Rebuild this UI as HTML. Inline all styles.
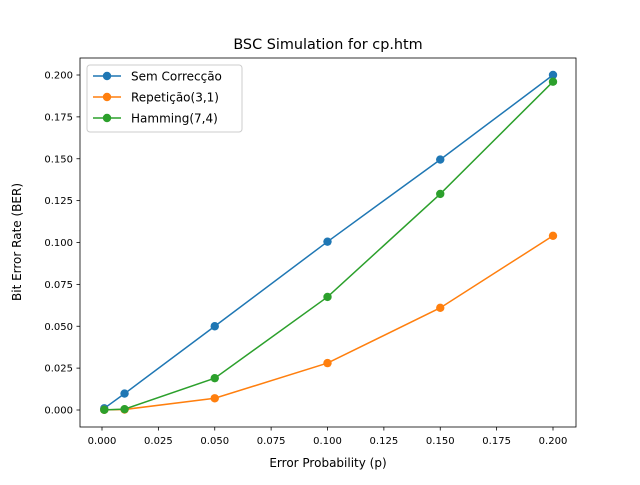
<!DOCTYPE html>
<html><head><meta charset="utf-8"><style>
body{margin:0;background:#fff;}
svg text{font-family:"DejaVu Sans","Liberation Sans",sans-serif;}
</style></head><body>
<svg id="chart" width="640" height="480" xmlns="http://www.w3.org/2000/svg"></svg>
<script>
const xValues=[0.001,0.01,0.05,0.1,0.15,0.2];
const semCorreccao=[0.001,0.0098,0.050,0.1005,0.1495,0.200];
const repeticao=[0.0001,0.0003,0.007,0.028,0.061,0.104];
const hamming=[0.0001,0.0005,0.019,0.0675,0.129,0.196];
const xTicks=[0,0.025,0.05,0.075,0.1,0.125,0.15,0.175,0.2];
const yTicks=[0,0.025,0.05,0.075,0.1,0.125,0.15,0.175,0.2];
const seriesNames=["Sem Correcção","Repetição(3,1)","Hamming(7,4)"];
const seriesColors=["#1f77b4","#ff7f0e","#2ca02c"];

const svg=document.getElementById('chart');
const NS="http://www.w3.org/2000/svg";
const L=80,R=576,T=58,B=427;
const sx=v=>102+(v/0.2)*(553-102);
const sy=v=>410-(v/0.2)*(410-75);
function mk(tag,attrs,parent){const e=document.createElementNS(NS,tag);for(const k in attrs)e.setAttribute(k,attrs[k]);(parent||svg).appendChild(e);return e;}

const frame=mk('rect',{x:L,y:T,width:R-L,height:B-T,fill:'none',stroke:'#000','stroke-width':0.8});



xTicks.forEach(t=>{
  const x=sx(t);
  const ln=mk('line',{x1:x,x2:x,y1:B,y2:B+3.5,stroke:'#000','stroke-width':0.8});
  
  
  const tx=mk('text',{x:x,y:B+17,'text-anchor':'middle','font-size':10});
  tx.textContent=t.toFixed(3);
  
  
});
yTicks.forEach(t=>{
  const y=sy(t);
  const ln=mk('line',{x1:L,x2:L-3.5,y1:y,y2:y,stroke:'#000','stroke-width':0.8});
  
  
  const tx=mk('text',{x:L-7,y:y+3.5,'text-anchor':'end','font-size':10});
  tx.textContent=t.toFixed(3);
  
  
});

[semCorreccao,repeticao,hamming].forEach((vals,i)=>{
  const g=mk('g',{});
  
  
  const pts=vals.map((v,j)=>sx(xValues[j])+','+sy(v)).join(' ');
  mk('polyline',{points:pts,fill:'none',stroke:seriesColors[i],'stroke-width':1.5},g);
  vals.forEach((v,j)=>{
    const c=mk('circle',{cx:sx(xValues[j]),cy:sy(v),r:4.2,fill:seriesColors[i]},g);
    
    
  });
});

const title=mk('text',{x:328,y:49,'text-anchor':'middle','font-size':14.4});
title.textContent='BSC Simulation for cp.htm';


const xt=mk('text',{x:328,y:467,'text-anchor':'middle','font-size':12});
xt.textContent='Error Probability (p)';


const yt=mk('text',{x:0,y:0,'text-anchor':'middle','font-size':12,transform:'translate(21,242) rotate(-90)'});
yt.textContent='Bit Error Rate (BER)';



const lg=mk('g',{});


mk('rect',{x:87,y:65,width:155,height:67,rx:3,fill:'#fff','fill-opacity':0.8,stroke:'#ccc','stroke-width':1},lg);
seriesNames.forEach((n,i)=>{
  const y=76+i*21;
  const e=mk('g',{},lg);
  
  
  mk('line',{x1:93,x2:121,y1:y,y2:y,stroke:seriesColors[i],'stroke-width':1.5},e);
  mk('circle',{cx:107,cy:y,r:4.2,fill:seriesColors[i]},e);
  const t=mk('text',{x:131,y:y+4.5,'font-size':12},e);
  t.textContent=n;
});
</script>
</body></html>
